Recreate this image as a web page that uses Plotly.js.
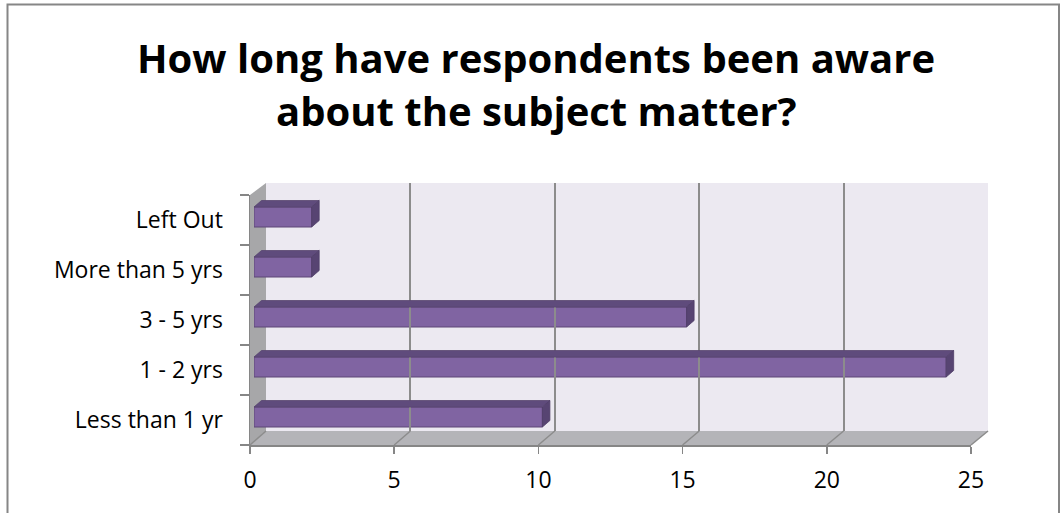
<!DOCTYPE html>
<html>
<head>
<meta charset="utf-8">
<script src="https://cdn.plot.ly/plotly-3.0.1.min.js"></script>
<style>html,body{margin:0;padding:0;background:#fff;}#chart{width:1060px;height:513px;}</style>
</head>
<body>
<div id="chart"></div>
<script>
// ---- data ----
const categories = ["Less than 1 yr", "1 - 2 yrs", "3 - 5 yrs", "More than 5 yrs", "Left Out"];
const values = [10, 24, 15, 2, 2];
const xTicks = [0, 5, 10, 15, 20, 25];
const titleLines = ["How long have respondents been aware", "about the subject matter?"];

// ---- geometry (pixels) ----
const W = 1060, H = 513;
const X = p => p / W, Y = p => 1 - p / H;
const F = {x0: 250, x1: 971, yTop: 195, yBot: 445};      // front plane
const B = {x0: 266, x1: 988, yTop: 183, yBot: 431};      // back wall
const BAR = {x0: 254, x1: 975, yTop: 192, yBot: 442};    // bar plane
const xMax = 25;
const dx = 7.5 / ((BAR.x1 - BAR.x0) / xMax);
const dy = 6.5 / ((BAR.yBot - BAR.yTop) / categories.length);
const half = 0.2;

const FONT = "'Open Sans', 'Noto Sans', sans-serif";

const shapes = [];
// chart border
shapes.push({type: 'rect', xref: 'paper', yref: 'paper', x0: X(7.5), x1: X(1059), y0: Y(4.5), y1: Y(520),
  line: {color: '#868686', width: 2}, fillcolor: 'rgba(0,0,0,0)', layer: 'below'});
// back wall
shapes.push({type: 'path', xref: 'paper', yref: 'paper', layer: 'below',
  path: `M${X(B.x0)},${Y(B.yTop)} L${X(B.x1)},${Y(B.yTop)} L${X(B.x1)},${Y(B.yBot)} L${X(B.x0)},${Y(B.yBot)} Z`,
  fillcolor: '#ECE9F1', line: {width: 0}});
// left wall
shapes.push({type: 'path', xref: 'paper', yref: 'paper', layer: 'below',
  path: `M${X(F.x0)},${Y(F.yTop)} L${X(B.x0)},${Y(B.yTop)} L${X(B.x0)},${Y(B.yBot)} L${X(F.x0)},${Y(F.yBot)} Z`,
  fillcolor: '#A7A7A9', line: {width: 0}});
// floor
shapes.push({type: 'path', xref: 'paper', yref: 'paper', layer: 'below',
  path: `M${X(F.x0)},${Y(F.yBot)} L${X(B.x0)},${Y(B.yBot)} L${X(B.x1)},${Y(B.yBot)} L${X(F.x1)},${Y(F.yBot)} Z`,
  fillcolor: '#B4B4B8', line: {width: 0}});
// floor diagonal grid lines
xTicks.forEach(t => {
  const fx = F.x0 + (F.x1 - F.x0) * t / xMax;
  const bx = B.x0 + (B.x1 - B.x0) * t / xMax;
  shapes.push({type: 'line', xref: 'paper', yref: 'paper', layer: 'below',
    x0: X(fx), y0: Y(F.yBot), x1: X(bx), y1: Y(B.yBot), line: {color: '#8C8C8C', width: 1.5}});
});
// 3D bar faces (top and right side) from data
values.forEach((v, i) => {
  shapes.push({type: 'path', xref: 'x2', yref: 'y2', layer: 'above',
    path: `M0,${i + half} L${v},${i + half} L${v + dx},${i + half + dy} L${dx},${i + half + dy} Z`,
    fillcolor: '#5F4B7C', line: {color: '#58456F', width: 0.8}});
  shapes.push({type: 'path', xref: 'x2', yref: 'y2', layer: 'above',
    path: `M${v},${i - half} L${v},${i + half} L${v + dx},${i + half + dy} L${v + dx},${i - half + dy} Z`,
    fillcolor: '#574472', line: {color: '#4F3E68', width: 0.8}});
});

const traces = [
  // invisible trace to establish the category axis
  {type: 'bar', orientation: 'h', x: values.map(() => 0), y: categories, xaxis: 'x', yaxis: 'y',
   marker: {color: 'rgba(0,0,0,0)'}, hoverinfo: 'skip', showlegend: false},
  // back wall grid holder
  {type: 'scatter', mode: 'markers', x: [0], y: [0], xaxis: 'x3', yaxis: 'y3',
   marker: {opacity: 0}, hoverinfo: 'skip', showlegend: false},
  // actual bars
  {type: 'bar', orientation: 'h', x: values, y: categories.map((c, i) => i), xaxis: 'x2', yaxis: 'y2',
   width: 2 * half, marker: {color: '#8064A2', line: {color: '#5C4776', width: 1}},
   hoverinfo: 'skip', showlegend: false}
];

const layout = {
  width: W, height: H,
  margin: {l: 0, r: 0, t: 0, b: 0},
  paper_bgcolor: '#FFFFFF', plot_bgcolor: 'rgba(0,0,0,0)',
  showlegend: false,
  font: {family: FONT, color: '#000000', size: 23},
  xaxis: {domain: [X(F.x0), X(F.x1)], range: [0, xMax], anchor: 'y', tickvals: xTicks,
    ticks: 'outside', ticklen: 7, tickwidth: 1.5, tickcolor: '#868686',
    showline: true, linecolor: '#868686', linewidth: 1.5, showgrid: false, zeroline: false,
    ticklabelstandoff: 7, tickfont: {size: 23, family: FONT, color: '#000'}},
  yaxis: {domain: [Y(F.yBot), Y(F.yTop)], type: 'category', categoryarray: categories, categoryorder: 'array',
    range: [-0.5, categories.length - 0.5], anchor: 'x', tickson: 'boundaries',
    ticks: 'outside', ticklen: 9, tickwidth: 1.5, tickcolor: '#868686',
    showline: true, linecolor: '#868686', linewidth: 1.5, showgrid: false, zeroline: false,
    ticklabelstandoff: 21, tickfont: {size: 23, family: FONT, color: '#000'}},
  xaxis2: {domain: [X(BAR.x0), X(BAR.x1)], range: [0, xMax], anchor: 'y2', visible: false},
  yaxis2: {domain: [Y(BAR.yBot), Y(BAR.yTop)], range: [-0.5, categories.length - 0.5], anchor: 'x2', visible: false},
  xaxis3: {domain: [X(B.x0), X(B.x1)], range: [0, xMax], anchor: 'y3', tickvals: xTicks,
    showgrid: true, gridcolor: '#8C8C8C', gridwidth: 2, showticklabels: false, ticks: '', zeroline: false, showline: false},
  yaxis3: {domain: [Y(B.yBot), Y(B.yTop)], range: [0, 1], anchor: 'x3', visible: false},
  shapes: shapes,
  annotations: titleLines.map((t, k) => ({
    text: '<b>' + t + '</b>', xref: 'paper', yref: 'paper', x: X(536), y: Y(57 + 53 * k),
    xanchor: 'center', yanchor: 'middle', showarrow: false,
    font: {family: FONT, size: 40, color: '#000'}
  }))
};

Plotly.newPlot('chart', traces, layout, {staticPlot: true, displayModeBar: false});
</script>
</body>
</html>
